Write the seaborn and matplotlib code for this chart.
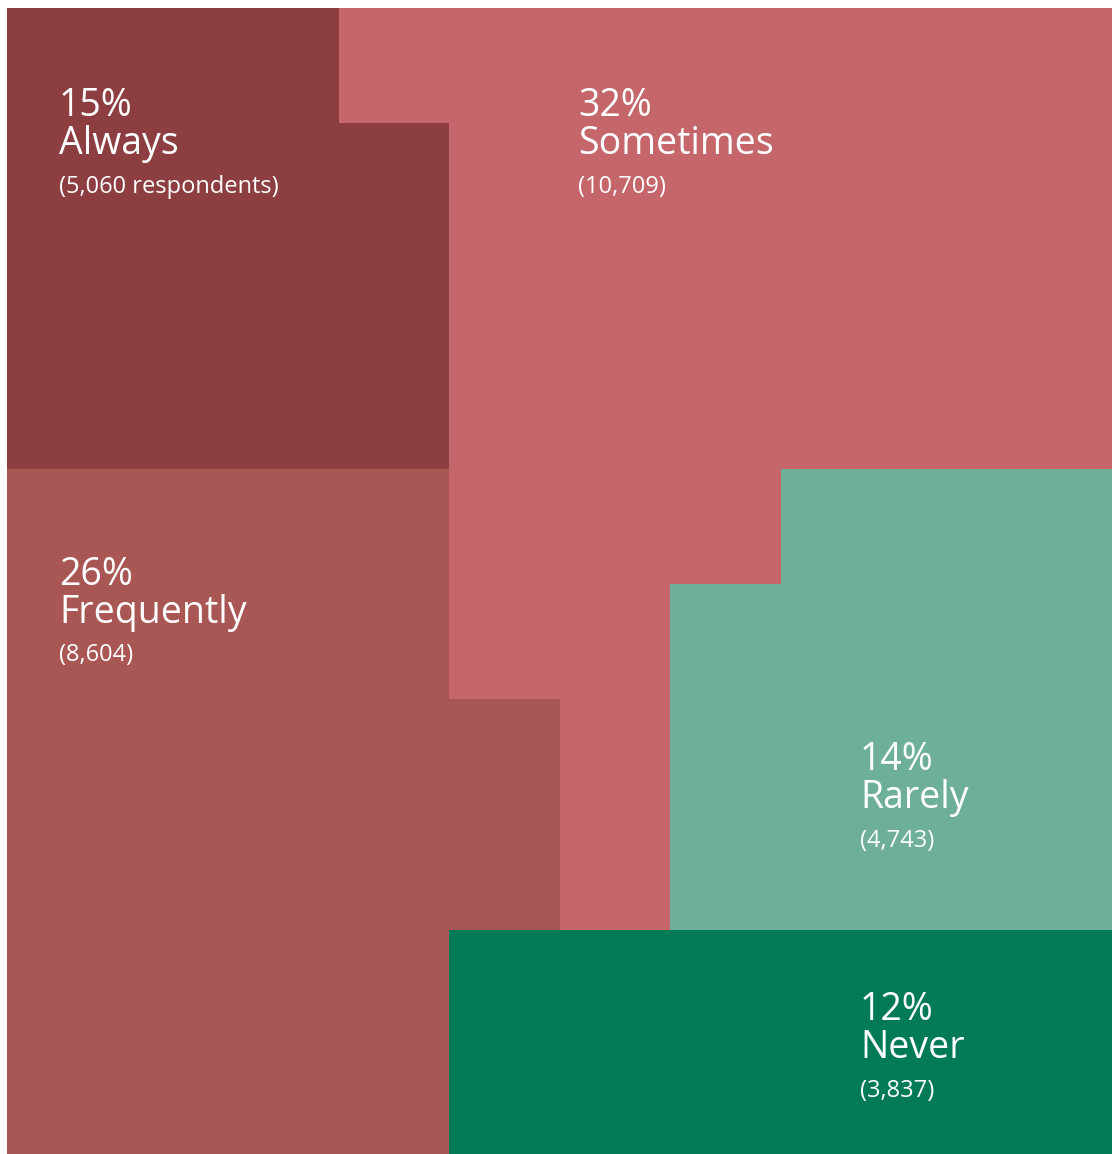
import numpy as np
import pandas as pd
import matplotlib
matplotlib.use("Agg")
import matplotlib.pyplot as plt
from matplotlib.colors import ListedColormap
import seaborn as sns

# Survey answers, share of respondents and head counts
categories = ["Always", "Sometimes", "Frequently", "Rarely", "Never"]
percent = [15, 32, 26, 14, 12]
respondents = [5060, 10709, 8604, 4743, 3837]
colors = ["#8C3E40", "#C5666B", "#A95754", "#6EAF9A", "#017B57"]

# 10 x 10 waffle layout: one letter per cell (first letter of the category)
layout = [
    "AAASSSSSSS",
    "AAAASSSSSS",
    "AAAASSSSSS",
    "AAAASSSSSS",
    "FFFFSSSRRR",
    "FFFFSSRRRR",
    "FFFFFSRRRR",
    "FFFFFSRRRR",
    "FFFFNNNNNN",
    "FFFFNNNNNN",
]

code = {c[0]: i for i, c in enumerate(categories)}
grid = pd.DataFrame([[code[ch] for ch in row] for row in layout])

sns.set_theme(style="white")
plt.rcParams["font.family"] = ["Open Sans", "DejaVu Sans"]

fig = plt.figure(figsize=(11.18, 11.54), dpi=100)
ax = fig.add_axes([7 / 1118, -6 / 1154, 1105 / 1118, 1152 / 1154])

sns.heatmap(grid, ax=ax, cmap=ListedColormap(colors), vmin=-0.5, vmax=4.5,
            cbar=False, linewidths=0, square=False,
            xticklabels=False, yticklabels=False)
ax.set_xlabel("")
ax.set_ylabel("")

# Label anchors (cell units: x from left, y from top)
anchors = {
    "Always": (0.47, 0.85),
    "Sometimes": (5.17, 0.85),
    "Frequently": (0.47, 4.92),
    "Rarely": (7.72, 6.53),
    "Never": (7.72, 8.70),
}

for cat, pct, n in zip(categories, percent, respondents):
    x, y = anchors[cat]
    count = f"({n:,} respondents)" if cat == "Always" else f"({n:,})"
    ax.text(x, y, f"{pct}%", color="white", fontsize=27, fontweight="normal",
            ha="left", va="center")
    ax.text(x, y + 0.33, cat, color="white", fontsize=27, fontweight="normal",
            ha="left", va="center")
    ax.text(x, y + 0.70, count, color="white", fontsize=17, fontweight="normal",
            ha="left", va="center")

fig.savefig("out.png", dpi=100, facecolor="white")
